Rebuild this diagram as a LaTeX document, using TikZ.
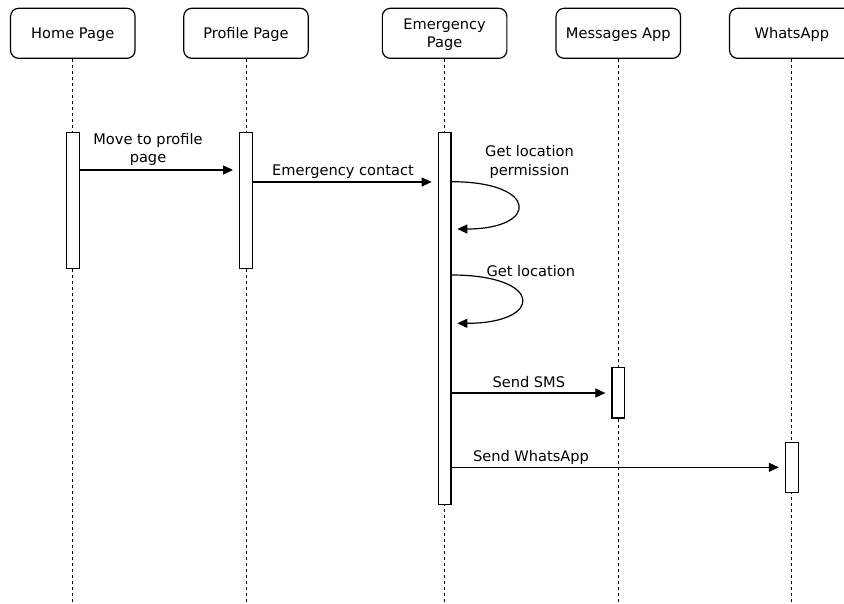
\documentclass[tikz,border=0pt]{standalone}
\usepackage{fontspec}
\setmainfont{DejaVu Sans}
\usetikzlibrary{arrows.meta}
\begin{document}
\begin{tikzpicture}[x=1pt,y=-1pt,
  txt/.style={font=\fontsize{14.6}{18.4}\selectfont},
  actor/.style={draw, rounded corners=8pt, minimum width=124.5pt, minimum height=50pt, inner sep=0pt, line width=1.2pt},
  atext/.style={txt, align=center, inner sep=0pt, yshift=-1.5pt},
  bar/.style={draw, fill=white, minimum width=12.7pt, inner sep=0pt, line width=1.2pt},
  life/.style={dash pattern=on 3pt off 3pt, line width=1pt},
  msg/.style={-{Triangle[length=10pt,width=9pt]}, line width=1.2pt},
  lbl/.style={txt, align=center, inner sep=0pt, yshift=-1pt}]
\useasboundingbox (0,0) rectangle (844,603);
\clip (0,0) rectangle (844,603);
\fill[white] (0,0) rectangle (844,603);
% participants
\node[actor] (home) at (72.8,33.3) {};
\node[actor] (prof) at (246,33.3) {};
\node[actor] (emer) at (444.6,33.3) {};
\node[actor] (msgs) at (618.3,33.3) {};
\node[actor] (wapp) at (791.8,33.3) {};
\node[atext] (homeT) at (home.center) {Home Page};
\node[atext] (profT) at (prof.center) {Profile Page};
\node[atext] (emerT) at (emer.center) {Emergency\\Page};
\node[atext] (msgsT) at (msgs.center) {Messages App};
\node[atext] (wappT) at (wapp.center) {WhatsApp};
% lifeline ends
\coordinate (homeE) at (72.8,603);
\coordinate (profE) at (246,603);
\coordinate (emerE) at (444.6,603);
\coordinate (msgsE) at (618.3,603);
\coordinate (wappE) at (791.8,603);
\draw[life] (home.south) -- (homeE);
\draw[life] (prof.south) -- (profE);
\draw[life] (emer.south) -- (emerE);
\draw[life] (msgs.south) -- (msgsE);
\draw[life] (wapp.south) -- (wappE);
% activation bars
\node[bar, minimum height=136pt] (hb) at (72.8,200.7) {};
\node[bar, minimum height=136pt] (pb) at (246,200.7) {};
\node[bar, minimum height=372pt] (eb) at (444.6,318.7) {};
\node[bar, minimum height=50.3pt] (mb) at (618.3,392.8) {};
\node[bar, minimum height=50pt] (wb) at (791.8,467.3) {};
% messages
\draw[msg, shorten >=6pt] (hb.east |- 0,170) -- (pb.west |- 0,170);
\node[lbl] (l1) at (148,148.5) {Move to profile\\page};
\draw[msg, shorten >=6pt] (pb.east |- 0,182) -- (eb.west |- 0,182);
\node[lbl] (l2) at (343,170.5) {Emergency contact};
% self calls
\coordinate (s1e) at (457.3,229);
\draw[msg] (eb.east |- 0,181.7) .. controls (539,181.7) and (539,229) .. (s1e);
\node[lbl] (l3) at (529.5,161) {Get location\\permission};
\coordinate (s2e) at (457.3,323.3);
\draw[msg] (eb.east |- 0,275) .. controls (544,275) and (544,323.3) .. (s2e);
\node[lbl] (l4) at (530.8,270.5) {Get location};
% sends
\draw[msg, shorten >=6pt] (eb.east |- 0,393) -- (mb.west |- 0,393);
\node[lbl] (l5) at (528.8,381.5) {Send SMS};
\draw[msg, shorten >=6pt] (eb.east |- 0,467.3) -- (wb.west |- 0,467.3);
\node[lbl] (l6) at (531,456.5) {Send WhatsApp};
\end{tikzpicture}
\end{document}
